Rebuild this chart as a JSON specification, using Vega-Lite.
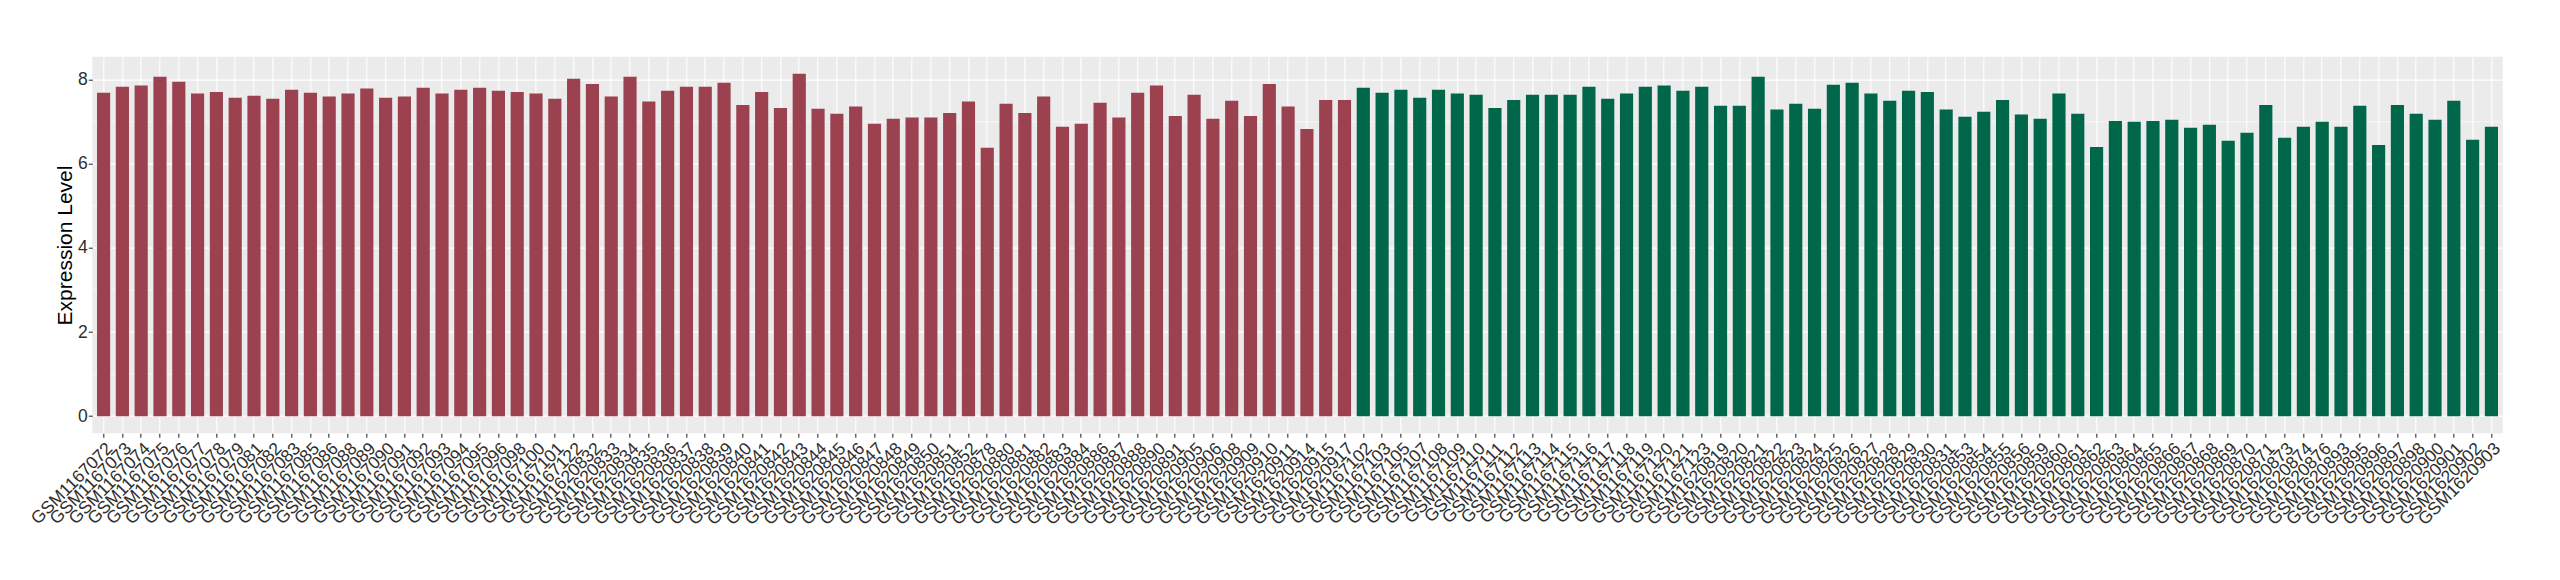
{
  "$schema": "https://vega.github.io/schema/vega-lite/v6.json",
  "width": 2410.4,
  "height": 376.6,
  "autosize": "none",
  "padding": {"left": 92.3, "top": 56.7, "right": 57.3, "bottom": 146.7},
  "background": "white",
  "config": {
    "font": "Liberation Sans",
    "view": {"fill": "#EBEBEB", "stroke": null},
    "axis": {"domain": false, "tickColor": "#333333", "tickSize": 4, "tickWidth": 1.1, "labelColor": "#2E2E2E", "labelFontSize": 17.5, "gridColor": "#FFFFFF"}
  },
  "datasets": {
    "minor": [{"value": 1}, {"value": 3}, {"value": 5}, {"value": 7}],
    "bars": [
      {"sample": "GSM1167072", "value": 7.69, "group": "A"},
      {"sample": "GSM1167073", "value": 7.83, "group": "A"},
      {"sample": "GSM1167074", "value": 7.86, "group": "A"},
      {"sample": "GSM1167075", "value": 8.07, "group": "A"},
      {"sample": "GSM1167076", "value": 7.95, "group": "A"},
      {"sample": "GSM1167077", "value": 7.67, "group": "A"},
      {"sample": "GSM1167078", "value": 7.71, "group": "A"},
      {"sample": "GSM1167079", "value": 7.57, "group": "A"},
      {"sample": "GSM1167081", "value": 7.62, "group": "A"},
      {"sample": "GSM1167082", "value": 7.55, "group": "A"},
      {"sample": "GSM1167083", "value": 7.76, "group": "A"},
      {"sample": "GSM1167085", "value": 7.69, "group": "A"},
      {"sample": "GSM1167086", "value": 7.60, "group": "A"},
      {"sample": "GSM1167088", "value": 7.67, "group": "A"},
      {"sample": "GSM1167089", "value": 7.79, "group": "A"},
      {"sample": "GSM1167090", "value": 7.57, "group": "A"},
      {"sample": "GSM1167091", "value": 7.60, "group": "A"},
      {"sample": "GSM1167092", "value": 7.81, "group": "A"},
      {"sample": "GSM1167093", "value": 7.67, "group": "A"},
      {"sample": "GSM1167094", "value": 7.76, "group": "A"},
      {"sample": "GSM1167095", "value": 7.81, "group": "A"},
      {"sample": "GSM1167096", "value": 7.74, "group": "A"},
      {"sample": "GSM1167098", "value": 7.71, "group": "A"},
      {"sample": "GSM1167100", "value": 7.67, "group": "A"},
      {"sample": "GSM1167101", "value": 7.55, "group": "A"},
      {"sample": "GSM1167122", "value": 8.02, "group": "A"},
      {"sample": "GSM1620832", "value": 7.90, "group": "A"},
      {"sample": "GSM1620833", "value": 7.60, "group": "A"},
      {"sample": "GSM1620834", "value": 8.07, "group": "A"},
      {"sample": "GSM1620835", "value": 7.48, "group": "A"},
      {"sample": "GSM1620836", "value": 7.74, "group": "A"},
      {"sample": "GSM1620837", "value": 7.83, "group": "A"},
      {"sample": "GSM1620838", "value": 7.83, "group": "A"},
      {"sample": "GSM1620839", "value": 7.93, "group": "A"},
      {"sample": "GSM1620840", "value": 7.40, "group": "A"},
      {"sample": "GSM1620841", "value": 7.71, "group": "A"},
      {"sample": "GSM1620842", "value": 7.33, "group": "A"},
      {"sample": "GSM1620843", "value": 8.14, "group": "A"},
      {"sample": "GSM1620844", "value": 7.31, "group": "A"},
      {"sample": "GSM1620845", "value": 7.19, "group": "A"},
      {"sample": "GSM1620846", "value": 7.36, "group": "A"},
      {"sample": "GSM1620847", "value": 6.95, "group": "A"},
      {"sample": "GSM1620848", "value": 7.07, "group": "A"},
      {"sample": "GSM1620849", "value": 7.10, "group": "A"},
      {"sample": "GSM1620850", "value": 7.10, "group": "A"},
      {"sample": "GSM1620851", "value": 7.21, "group": "A"},
      {"sample": "GSM1620852", "value": 7.48, "group": "A"},
      {"sample": "GSM1620878", "value": 6.38, "group": "A"},
      {"sample": "GSM1620880", "value": 7.43, "group": "A"},
      {"sample": "GSM1620881", "value": 7.21, "group": "A"},
      {"sample": "GSM1620882", "value": 7.60, "group": "A"},
      {"sample": "GSM1620883", "value": 6.88, "group": "A"},
      {"sample": "GSM1620884", "value": 6.95, "group": "A"},
      {"sample": "GSM1620886", "value": 7.45, "group": "A"},
      {"sample": "GSM1620887", "value": 7.10, "group": "A"},
      {"sample": "GSM1620888", "value": 7.69, "group": "A"},
      {"sample": "GSM1620890", "value": 7.86, "group": "A"},
      {"sample": "GSM1620891", "value": 7.14, "group": "A"},
      {"sample": "GSM1620905", "value": 7.64, "group": "A"},
      {"sample": "GSM1620906", "value": 7.07, "group": "A"},
      {"sample": "GSM1620908", "value": 7.50, "group": "A"},
      {"sample": "GSM1620909", "value": 7.14, "group": "A"},
      {"sample": "GSM1620910", "value": 7.90, "group": "A"},
      {"sample": "GSM1620911", "value": 7.36, "group": "A"},
      {"sample": "GSM1620914", "value": 6.83, "group": "A"},
      {"sample": "GSM1620915", "value": 7.52, "group": "A"},
      {"sample": "GSM1620917", "value": 7.52, "group": "A"},
      {"sample": "GSM1167102", "value": 7.81, "group": "B"},
      {"sample": "GSM1167103", "value": 7.69, "group": "B"},
      {"sample": "GSM1167105", "value": 7.76, "group": "B"},
      {"sample": "GSM1167107", "value": 7.57, "group": "B"},
      {"sample": "GSM1167108", "value": 7.76, "group": "B"},
      {"sample": "GSM1167109", "value": 7.67, "group": "B"},
      {"sample": "GSM1167110", "value": 7.64, "group": "B"},
      {"sample": "GSM1167111", "value": 7.33, "group": "B"},
      {"sample": "GSM1167112", "value": 7.52, "group": "B"},
      {"sample": "GSM1167113", "value": 7.64, "group": "B"},
      {"sample": "GSM1167114", "value": 7.64, "group": "B"},
      {"sample": "GSM1167115", "value": 7.64, "group": "B"},
      {"sample": "GSM1167116", "value": 7.83, "group": "B"},
      {"sample": "GSM1167117", "value": 7.55, "group": "B"},
      {"sample": "GSM1167118", "value": 7.67, "group": "B"},
      {"sample": "GSM1167119", "value": 7.83, "group": "B"},
      {"sample": "GSM1167120", "value": 7.86, "group": "B"},
      {"sample": "GSM1167121", "value": 7.74, "group": "B"},
      {"sample": "GSM1167123", "value": 7.83, "group": "B"},
      {"sample": "GSM1620819", "value": 7.38, "group": "B"},
      {"sample": "GSM1620820", "value": 7.38, "group": "B"},
      {"sample": "GSM1620821", "value": 8.07, "group": "B"},
      {"sample": "GSM1620822", "value": 7.29, "group": "B"},
      {"sample": "GSM1620823", "value": 7.43, "group": "B"},
      {"sample": "GSM1620824", "value": 7.31, "group": "B"},
      {"sample": "GSM1620825", "value": 7.88, "group": "B"},
      {"sample": "GSM1620826", "value": 7.93, "group": "B"},
      {"sample": "GSM1620827", "value": 7.67, "group": "B"},
      {"sample": "GSM1620828", "value": 7.50, "group": "B"},
      {"sample": "GSM1620829", "value": 7.74, "group": "B"},
      {"sample": "GSM1620830", "value": 7.71, "group": "B"},
      {"sample": "GSM1620831", "value": 7.29, "group": "B"},
      {"sample": "GSM1620853", "value": 7.12, "group": "B"},
      {"sample": "GSM1620854", "value": 7.24, "group": "B"},
      {"sample": "GSM1620855", "value": 7.52, "group": "B"},
      {"sample": "GSM1620856", "value": 7.17, "group": "B"},
      {"sample": "GSM1620859", "value": 7.07, "group": "B"},
      {"sample": "GSM1620860", "value": 7.67, "group": "B"},
      {"sample": "GSM1620861", "value": 7.19, "group": "B"},
      {"sample": "GSM1620862", "value": 6.40, "group": "B"},
      {"sample": "GSM1620863", "value": 7.02, "group": "B"},
      {"sample": "GSM1620864", "value": 7.00, "group": "B"},
      {"sample": "GSM1620865", "value": 7.02, "group": "B"},
      {"sample": "GSM1620866", "value": 7.05, "group": "B"},
      {"sample": "GSM1620867", "value": 6.86, "group": "B"},
      {"sample": "GSM1620868", "value": 6.93, "group": "B"},
      {"sample": "GSM1620869", "value": 6.55, "group": "B"},
      {"sample": "GSM1620870", "value": 6.74, "group": "B"},
      {"sample": "GSM1620871", "value": 7.40, "group": "B"},
      {"sample": "GSM1620873", "value": 6.62, "group": "B"},
      {"sample": "GSM1620874", "value": 6.88, "group": "B"},
      {"sample": "GSM1620876", "value": 7.00, "group": "B"},
      {"sample": "GSM1620893", "value": 6.88, "group": "B"},
      {"sample": "GSM1620895", "value": 7.38, "group": "B"},
      {"sample": "GSM1620896", "value": 6.45, "group": "B"},
      {"sample": "GSM1620897", "value": 7.40, "group": "B"},
      {"sample": "GSM1620898", "value": 7.19, "group": "B"},
      {"sample": "GSM1620900", "value": 7.05, "group": "B"},
      {"sample": "GSM1620901", "value": 7.50, "group": "B"},
      {"sample": "GSM1620902", "value": 6.57, "group": "B"},
      {"sample": "GSM1620903", "value": 6.88, "group": "B"}
    ]
  },
  "layer": [
    {
      "data": {"name": "minor"},
      "mark": {"type": "rule", "color": "#FFFFFF", "strokeWidth": 0.65},
      "encoding": {
        "y": {"field": "value", "type": "quantitative", "scale": {"domain": [-0.407, 8.547], "nice": false, "zero": false}, "title": "Expression Level"}
      }
    },
    {
      "data": {"name": "bars"},
      "mark": {"type": "bar"},
      "encoding": {
        "x": {
          "field": "sample", "type": "nominal", "sort": null, "title": null,
          "scale": {"paddingInner": 0.3, "paddingOuter": 0.25},
          "axis": {"labelAngle": -45, "labelAlign": "right", "labelBaseline": "top", "labelPadding": 2, "grid": true, "gridWidth": 1.1, "labelOverlap": false, "labelFontSize": 17.5}
        },
        "y": {
          "field": "value", "type": "quantitative",
          "scale": {"domain": [-0.407, 8.547], "nice": false, "zero": false},
          "title": "Expression Level",
          "axis": {"values": [0, 2, 4, 6, 8], "grid": true, "gridWidth": 1.3, "labelPadding": 1, "titleFontSize": 21, "titleFontWeight": "normal", "titleColor": "#000000", "titlePadding": 2, "labelFontSize": 17.5}
        },
        "color": {"field": "group", "type": "nominal", "scale": {"domain": ["A", "B"], "range": ["#9B4150", "#00674A"]}, "legend": null}
      }
    }
  ]
}
